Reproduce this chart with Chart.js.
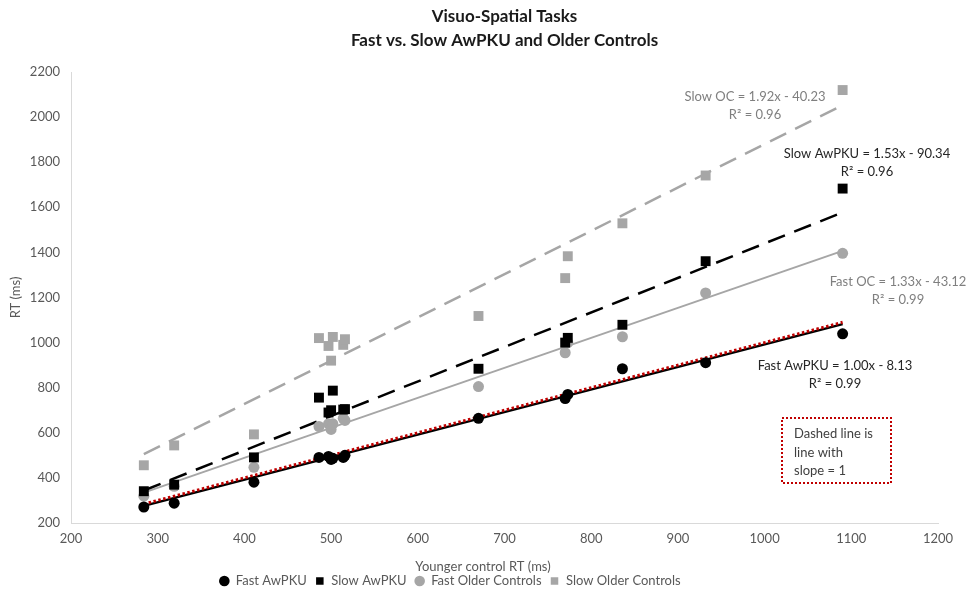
<!DOCTYPE html>
<html>
<head>
<meta charset="utf-8">
<script src="https://cdn.jsdelivr.net/npm/chart.js@4.4.1/dist/chart.umd.min.js"></script>
<style>
  html, body { margin: 0; padding: 0; background: #fff; }
  #wrap { width: 971px; height: 592px; }
</style>
</head>
<body>
<div id="wrap"><canvas id="chart" width="971" height="592"></canvas></div>
<script>
// younger control RT per task (x) and group RTs (y)
const taskX     = [284, 319, 411, 486, 497, 500, 502, 514, 516, 670, 770, 773, 836, 932, 1090];
const fastAwPKU = [271, 288, 381, 491, 495, 482, 487, 491, 500, 664, 752, 770, 884, 911, 1039];
const slowAwPKU = [341, 370, 491, 756, 690, 700, 787, 703, 705, 884, 1000, 1021, 1079, 1361, 1683];
const fastOC    = [319, 363, 447, 628, 640, 615, 640, 664, 655, 805, 955, 1000, 1026, 1220, 1396];
const slowOC    = [456, 544, 593, 1020, 985, 920, 1025, 990, 1015, 1118, 1286, 1383, 1529, 1741, 2120];

const seriesNames = ["Fast AwPKU", "Slow AwPKU", "Fast Older Controls", "Slow Older Controls"];

// linear trendlines as printed on the chart
const trendNames      = ["Fast AwPKU", "Slow AwPKU", "Fast OC", "Slow OC"];
const trendSlopes     = [1.00, 1.53, 1.33, 1.92];
const trendIntercepts = [-8.13, -90.34, -43.12, -40.23];
const trendR2         = [0.99, 0.96, 0.99, 0.96];

const xMin = 200, xMax = 1200, xStep = 100;
const yMin = 200, yMax = 2200, yStep = 200;

const BLACK = "#000000";
const GREY = "#a6a6a6";
const RED = "#c00000";
const TEXT = "#595959";
const FONT = "Lato";

function pts(ys) {
    return taskX.map((x, i) => ({ x: x, y: ys[i] }));
}

const xLo = Math.min(...taskX), xHi = Math.max(...taskX);
function trend(i) {
    return [xLo, xHi].map(x => ({ x: x, y: trendSlopes[i] * x + trendIntercepts[i] }));
}

function pointSet(label, ys, color, style, r) {
    return {
        label: label, data: pts(ys), showLine: false,
        pointStyle: style, pointRadius: r, pointHoverRadius: r,
        backgroundColor: color, borderColor: color, borderWidth: 0
    };
}

function lineSet(data, color, width, dash) {
    return {
        label: "", data: data, showLine: true, pointRadius: 0, pointHoverRadius: 0,
        borderColor: color, backgroundColor: color, borderWidth: width,
        borderDash: dash, fill: false
    };
}

// ── equation labels, note box, x title ──
const eqLabels = [
    { i: 0, x: 835, y: 366, color: "#262626" },
    { i: 1, x: 867, y: 154, color: "#262626" },
    { i: 2, x: 898, y: 282, color: "#7f7f7f" },
    { i: 3, x: 755, y: 97,  color: "#7f7f7f" }
];

const notePlugin = {
    id: "notes",
    afterLayout(chart) {
        // Excel put the legend left of centre, overlapping the axis title
        const lg = chart.legend;
        lg.left -= 23;
        lg.right -= 23;
        const dy = 581 - (lg.top + lg.options.labels.padding + 6.5);
        lg.top += dy;
        lg.bottom += dy;
    },
    afterDraw(chart) {
        const ctx = chart.ctx;
        ctx.save();
        ctx.font = "13px " + FONT;
        ctx.textAlign = "center";
        ctx.textBaseline = "middle";
        eqLabels.forEach(l => {
            const b = trendIntercepts[l.i];
            ctx.fillStyle = l.color;
            ctx.fillText(trendNames[l.i] + " = " + trendSlopes[l.i].toFixed(2) + "x " +
                (b < 0 ? "- " : "+ ") + Math.abs(b).toFixed(2), l.x, l.y);
            ctx.fillText("R\u00B2 = " + trendR2[l.i].toFixed(2), l.x, l.y + 17.5);
        });

        // note box
        ctx.strokeStyle = RED;
        ctx.lineWidth = 2;
        ctx.setLineDash([2, 2]);
        ctx.strokeRect(782, 418, 109, 65);
        ctx.setLineDash([]);
        ctx.fillStyle = "#404040";
        ctx.textAlign = "left";
        ["Dashed line is", "line with", "slope = 1"].forEach((t, k) => {
            ctx.fillText(t, 794, 434 + k * 18.5);
        });

        // x axis title
        ctx.fillStyle = TEXT;
        ctx.textAlign = "center";
        ctx.fillText("Younger control RT (ms)", 483, 567);
        ctx.restore();
    }
};

const ctx = document.getElementById("chart").getContext("2d");
new Chart(ctx, {
    type: "scatter",
    data: {
        datasets: [
            pointSet(seriesNames[0], fastAwPKU, BLACK, "circle", 5.5),
            pointSet(seriesNames[1], slowAwPKU, BLACK, "rect", 7),
            pointSet(seriesNames[2], fastOC, GREY, "circle", 5.5),
            pointSet(seriesNames[3], slowOC, GREY, "rect", 7),
            lineSet([xLo, xHi].map(x => ({ x: x, y: x })), RED, 3, [2.5, 2.5]),
            lineSet(trend(0), BLACK, 2.5, []),
            lineSet(trend(1), BLACK, 2.5, [18, 10]),
            lineSet(trend(2), GREY, 2, []),
            lineSet(trend(3), GREY, 2.5, [18, 10])
        ]
    },
    options: {
        responsive: false,
        animation: false,
        layout: { padding: { left: 8, right: 33, top: 0, bottom: 0 } },
        scales: {
            x: {
                type: "linear", min: xMin, max: xMax,
                ticks: { stepSize: xStep, padding: 8, color: TEXT, font: { family: FONT, size: 13 },
                         callback: v => String(v) },
                grid: { display: false, drawTicks: false },
                border: { color: "#d9d9d9", width: 1 },
                afterFit: s => {
                    const lh = s.chart.legend ? s.chart.legend.height : 45;
                    s.height = s.chart.height - 523 - lh;
                }
            },
            y: {
                min: yMin, max: yMax,
                ticks: { stepSize: yStep, padding: 11, color: TEXT, font: { family: FONT, size: 13 },
                         callback: v => String(v) },
                grid: { display: false, drawTicks: false },
                border: { color: "#d9d9d9", width: 1 },
                title: { display: true, text: "RT (ms)", color: TEXT, padding: 0, font: { family: FONT, size: 13 } },
                afterFit: s => { s.width = 63; }
            }
        },
        plugins: {
            title: {
                display: true, fullSize: false,
                text: ["Visuo-Spatial Tasks", "Fast vs. Slow AwPKU and Older Controls"],
                color: "#1a1a1a",
                font: { family: FONT, size: 17, weight: "bold", lineHeight: "24px" },
                padding: { top: 5, bottom: 19 }
            },
            legend: {
                position: "bottom",
                labels: {
                    usePointStyle: true, boxWidth: 10, boxHeight: 7.5, padding: 8,
                    color: TEXT, font: { family: FONT, size: 13 },
                    filter: item => item.datasetIndex < 4
                }
            },
            tooltip: { enabled: false }
        }
    },
    plugins: [notePlugin]
});
</script>
</body>
</html>
